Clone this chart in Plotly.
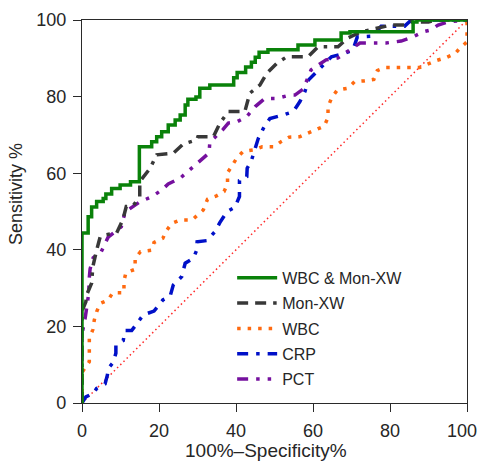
import plotly.graph_objects as go

# ---- data (100% - specificity, sensitivity) ----
combo_x = [0, 0, 1.6, 2.5, 3.8, 5.5, 6.2, 7.7, 9.9, 12.6, 14.9, 14.9, 18.1, 19.4, 20.7, 22.4, 24.2,
           25.5, 26.8, 27.5, 29.6, 30.6, 33.2, 39.4, 40.3, 42.5, 44.0, 45.0, 46.0, 48.3, 56.1, 60.5,
           67.3, 69.6, 86.0, 87.0, 100]
combo_y = [0, 44.4, 48.6, 51.2, 52.6, 53.4, 54.6, 56.0, 56.9, 57.8, 58.2, 66.9, 68.2, 69.5, 70.8, 72.6,
           73.9, 75.2, 77.8, 79.3, 79.9, 82.2, 83.0, 84.9, 86.3, 87.7, 89.0, 90.3, 91.6, 92.2, 93.5, 94.8,
           96.6, 96.9, 99.5, 100, 100]

mon_x = [0, 0, 1.0, 1.2, 2.5, 2.8, 3.8, 4.7, 6.0, 9.0, 10.6, 11.5, 13.2, 15.0, 15.0, 17.7, 19.4,
         23.7, 26.3, 29.8, 30.1, 34.1, 35.8, 38.0, 42.3, 43.6, 46.2, 48.0, 50.6, 53.2, 58.7, 61.3,
         66.5, 69.0, 72.5, 80.3, 84.0, 85.4, 90.0, 92.0, 100]
mon_y = [0, 24, 26.4, 28.2, 31.3, 35.5, 39.9, 43.3, 43.9, 44.4, 47.8, 51.3, 51.4, 53.9, 57.8, 61.3,
         64.8, 65.2, 67.6, 68.7, 69.5, 69.5, 73.0, 76.1, 76.1, 80.9, 83.0, 86.1, 88.7, 90.4, 90.4, 93.0,
         93.0, 95.3, 96.9, 98.7, 98.7, 99.5, 99.5, 100, 100]

wbc_x = [0, 0, 1.9, 1.9, 1.9, 2.8, 3.2, 3.8, 4.7, 6.8, 8.0, 10.9, 10.9, 11.4, 13.8, 13.8, 15.2, 18.1,
         18.7, 21.0, 21.8, 23.3, 25.5, 28.6, 30.4, 31.5, 32.6, 34.8, 36.9, 37.8, 37.8, 39.1, 40.3,
         41.9, 44.7, 46.8, 49.9, 51.8, 53.8, 56.5, 58.7, 60.9, 62.9, 63.9, 63.9, 64.9, 66.3, 69.1,
         70.8, 73.2, 75.8, 76.7, 78.8, 87.7, 89.9, 92.0, 94.6, 97.0, 98.1, 100, 100]
wbc_y = [0, 8, 10.8, 13.8, 16.9, 19.1, 21.7, 23.8, 26.0, 26.9, 28.8, 28.8, 31.9, 34.0, 34.9, 37.8,
         39.5, 39.9, 41.9, 43.0, 44.8, 46.9, 47.8, 47.8, 49.3, 50.4, 53.2, 54.0, 55.2, 57.2, 60.1,
         62.1, 64.1, 65.7, 66.1, 66.9, 66.9, 68.3, 69.4, 69.5, 70.4, 71.3, 72.3, 74.5, 77.4, 79.8,
         81.7, 82.2, 83.9, 84.1, 84.5, 86.8, 87.6, 87.6, 88.5, 89.4, 90.2, 91.3, 92.6, 94.3, 100]

crp_x = [0, 1.0, 2.9, 3.8, 6.0, 6.6, 6.8, 8.1, 8.8, 8.8, 10.7, 11.2, 12.9, 14.2, 15.9, 18.7, 20.3,
         21.0, 22.9, 23.7, 25.9, 26.8, 28.9, 29.8, 29.9, 32.4, 34.5, 35.8, 37.6, 39.7, 40.9, 40.9,
         42.8, 42.9, 43.9, 44.9, 45.8, 47.1, 48.8, 52.3, 54.9, 56.6, 57.9, 58.8, 61.0, 62.9, 64.8,
         68.2, 70.4, 71.5, 75.5, 77.7, 83.8, 85.1, 88.0, 100]
crp_y = [0, 1.6, 2.5, 3.8, 5.0, 7.3, 9.0, 10.6, 13.0, 15.1, 16.3, 18.9, 18.9, 20.6, 23.0, 24.0, 26.0,
         26.9, 27.9, 30.8, 33.0, 36.5, 37.8, 39.9, 42.1, 42.4, 44.7, 47.1, 49.9, 51.1, 53.9, 58.1,
         59.1, 61.3, 63.0, 66.1, 69.1, 71.7, 74.3, 75.2, 76.1, 78.7, 81.3, 84.3, 86.6, 88.7, 90.4,
         91.3, 92.2, 95.6, 95.8, 98.4, 98.4, 99.6, 100, 100]

pct_x = [0, 0, 0.8, 1.3, 1.8, 1.8, 2.1, 2.9, 5.0, 6.4, 6.8, 10.2, 11.2, 15.0, 18.2, 20.7, 22.4, 25.5,
         28.0, 30.0, 33.0, 33.2, 36.7, 38.0, 40.2, 42.8, 45.0, 47.5, 50.6, 54.0, 55.3, 57.5, 59.5,
         60.5, 63.4, 66.5, 69.6, 72.2, 79.0, 82.9, 86.0, 88.6, 90.6, 92.5, 95.0, 100]
pct_y = [0, 18, 22.0, 26.0, 29.0, 31.6, 35.0, 37.9, 39.5, 42.5, 43.3, 46.0, 49.9, 52.5, 53.9, 55.6,
         57.2, 58.7, 60.9, 62.6, 65.3, 68.1, 71.5, 73.1, 73.4, 74.8, 77.4, 79.5, 79.5, 80.4, 80.4,
         82.0, 87.0, 87.7, 89.6, 90.1, 92.2, 94.0, 94.0, 94.5, 95.6, 96.9, 97.4, 98.7, 99.5, 100]

ref_x = [0, 100]
ref_y = [0, 100]

tick_vals = [0, 20, 40, 60, 80, 100]
y_tick_text = ["0", "20", "40", "60", "80", "100"]
x_tick_text = ["0", "20", "40", "60", "80", "100\u00a0\u00a0"]

names = ["WBC & Mon-XW", "Mon-XW", "WBC", "CRP", "PCT"]

FONT = "Liberation Sans, Arial, Helvetica, sans-serif"

fig = go.Figure()

fig.add_trace(go.Scatter(x=ref_x, y=ref_y, mode="lines", showlegend=False,
                         line=dict(color="#ff2a2a", width=1.5, dash="1.5px,3px")))
fig.add_trace(go.Scatter(x=wbc_x, y=wbc_y, mode="lines", name=names[2], legendrank=3,
                         legendgroup="g3",
                         line=dict(color="#ff6a10", width=3.5, dash="3.5px,7px")))
fig.add_trace(go.Scatter(x=crp_x, y=crp_y, mode="lines", name=names[3], legendrank=4,
                         legendgroup="g4",
                         line=dict(color="#0010c8", width=3.5, dash="11px,8px,3.5px,8px")))
fig.add_trace(go.Scatter(x=pct_x, y=pct_y, mode="lines", name=names[4], legendrank=5,
                         legendgroup="g5",
                         line=dict(color="#75109e", width=3.5, dash="11px,8px,3.5px,8px,3.5px,8px")))
fig.add_trace(go.Scatter(x=mon_x, y=mon_y, mode="lines", name=names[1], legendrank=2,
                         legendgroup="g2",
                         line=dict(color="#383838", width=3.5, dash="11px,7px,11px,7px,3.5px,7px")))
fig.add_trace(go.Scatter(x=combo_x, y=combo_y, mode="lines", name=names[0], line_shape="hv",
                         legendrank=1, legendgroup="g1",
                         line=dict(color="#0a820a", width=3.5)))

axis_common = dict(
    range=[0, 100], tickvals=tick_vals, automargin=False,
    ticklabeloverflow="allow", ticklabelstandoff=3,
    showgrid=False, zeroline=False, showline=True, linecolor="#2a2a2a", linewidth=1.3,
    mirror=True, ticks="outside", ticklen=8, tickwidth=1.3, tickcolor="#2a2a2a",
    tickfont=dict(family=FONT, size=18, color="#262626"),
)

fig.update_xaxes(ticktext=x_tick_text, **axis_common)
fig.update_yaxes(ticktext=y_tick_text, **axis_common)

fig.update_layout(
    width=478, height=461,
    margin=dict(l=82, r=11, t=20, b=58, autoexpand=False),
    paper_bgcolor="white", plot_bgcolor="white",
    font=dict(family=FONT, color="#262626"),
    legend=dict(
        traceorder="grouped",
        x=0.39, y=0.371, xanchor="left", yanchor="top",
        bgcolor="rgba(0,0,0,0)", borderwidth=0,
        font=dict(family=FONT, size=16, color="#262626"),
        itemwidth=40, tracegroupgap=1.5,
    ),
    annotations=[
        dict(text="Sensitivity %", x=-0.172, y=0.545, xref="paper", yref="paper",
             showarrow=False, textangle=-90, xanchor="center", yanchor="middle",
             font=dict(family=FONT, size=18, color="#262626")),
        dict(text="100%–Specificity%", x=0.479, y=-0.124, xref="paper", yref="paper",
             showarrow=False, xanchor="center", yanchor="middle",
             font=dict(family=FONT, size=19, color="#262626")),
    ],
)

fig.write_html("out.html", config={"displayModeBar": False},
               post_script="document.body.style.margin='0';")
